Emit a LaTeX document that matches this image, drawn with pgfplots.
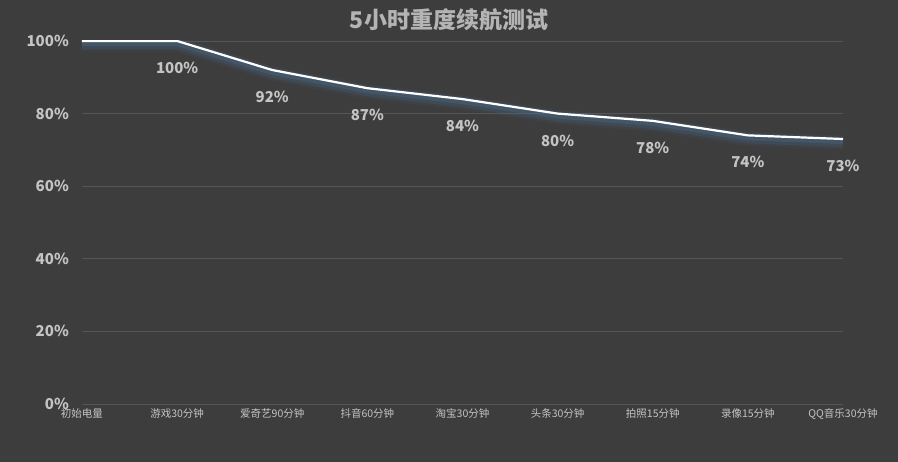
\documentclass[border=0pt]{standalone}
\usepackage{fontspec}
\setmainfont{Noto Sans CJK SC}
\usepackage{pgfplots}
\pgfplotsset{compat=1.18}
\definecolor{bg}{HTML}{3D3D3D}
\definecolor{gridc}{HTML}{565656}
\definecolor{txt}{HTML}{C4C4C4}
\definecolor{glow}{RGB}{75,115,150}
\begin{document}
\begin{tikzpicture}[x=1pt,y=1pt]
\fill[bg] (0,0) rectangle (898,462);
\node[font=\fontsize{23}{26}\selectfont\bfseries, text=txt!92!black] at (449,442) {5小时重度续航测试};
\begin{axis}[
  at={(82pt,58pt)}, anchor=south west,
  scale only axis, width=761pt, height=363pt,
  xmin=0, xmax=8, ymin=0, ymax=100,
  /pgf/number format/assume math mode=true,
  axis line style={draw=none},
  major tick length=0pt,
  ymajorgrids, grid style={gridc, line width=0.8pt},
  ytick={0,20,40,60,80,100},
  yticklabels={0\%,20\%,40\%,60\%,80\%,100\%},
  yticklabel style={font=\fontsize{15}{17}\selectfont\bfseries, text=txt, anchor=east, xshift=-13pt, inner sep=0pt},
  xtick={0,...,8},
  xticklabels={初始电量,游戏30分钟,爱奇艺90分钟,抖音60分钟,淘宝30分钟,头条30分钟,拍照15分钟,录像15分钟,QQ音乐30分钟},
  xticklabel style={font=\fontsize{10.5}{12}\selectfont, text=txt, anchor=north, yshift=-4pt, inner sep=0pt},
  clip=true,
]
\addplot[glow, opacity=0.1, line width=14pt, yshift=-3.5pt] coordinates {(0,100) (1,100) (2,92) (3,87) (4,84) (5,80) (6,78) (7,74) (8,73)};
\addplot[glow, opacity=0.18, line width=10pt, yshift=-3pt] coordinates {(0,100) (1,100) (2,92) (3,87) (4,84) (5,80) (6,78) (7,74) (8,73)};
\addplot[glow, opacity=0.3, line width=6pt, yshift=-2pt] coordinates {(0,100) (1,100) (2,92) (3,87) (4,84) (5,80) (6,78) (7,74) (8,73)};
\addplot[white, line width=2.2pt] coordinates {(0,100) (1,100) (2,92) (3,87) (4,84) (5,80) (6,78) (7,74) (8,73)};
\addplot[draw=none, nodes near coords={\pgfmathprintnumber{\pgfplotspointmeta}\%},
  point meta=y,
  every node near coord/.style={font=\fontsize{15}{18}\selectfont\bfseries, text=txt, anchor=center, yshift=-27pt}]
  coordinates {(1,100) (2,92) (3,87) (4,84) (5,80) (6,78) (7,74) (8,73)};
\end{axis}
\pgfresetboundingbox
\path[use as bounding box] (0,0) rectangle (898,462);
\end{tikzpicture}
\end{document}
